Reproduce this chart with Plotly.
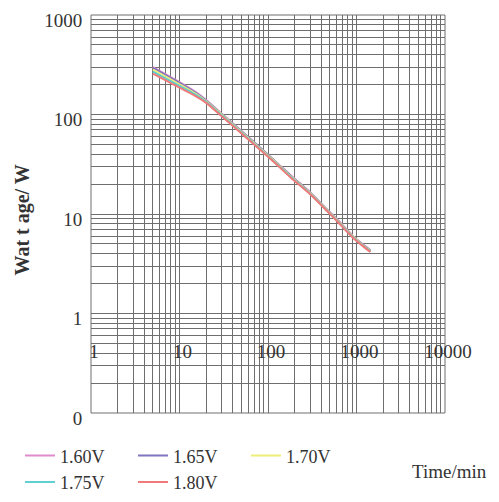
import plotly.graph_objects as go

# Time (min)
time_min = [5, 10, 15, 20, 30, 60, 120, 180, 300, 480, 600, 900, 1200, 1440]

# Wattage (W) per end voltage
w_160 = [300, 212, 170, 140, 102, 59, 34.0, 24.5, 16.5, 10.8, 8.9, 6.10, 4.90, 4.30]
w_165 = [295, 208, 167, 138, 101, 59, 34.0, 24.3, 16.4, 10.7, 8.8, 6.00, 4.85, 4.30]
w_170 = [283, 201, 163, 136, 100, 58, 33.5, 24.0, 16.2, 10.6, 8.7, 6.00, 4.80, 4.25]
w_175 = [270, 194, 159, 134, 98, 57, 33.0, 23.7, 16.0, 10.5, 8.6, 5.90, 4.75, 4.20]
w_180 = [257, 186, 154, 131, 96, 56, 32.5, 23.3, 15.8, 10.4, 8.5, 5.85, 4.70, 4.15]

series_names = ["1.60V", "1.65V", "1.70V", "1.75V", "1.80V"]
series_values = [w_160, w_165, w_170, w_175, w_180]
series_colors = ["#e08ccc", "#7f76bf", "#eeee78", "#5fcfcf", "#f07a7a"]

x_tickvals = [1, 10, 100, 1000, 10000]
x_ticktext = ["1", "10", "100", "1000", "10000"]
y_tickvals = [0.1, 1, 10, 100, 1000]
y_ticktext = ["0", "1", "10", "100", "1000"]

FONT = "Liberation Serif, Times New Roman, serif"
GRID = "#6e6e6e"
TXT = "#333333"

fig = go.Figure()
for name, vals, col in zip(series_names, series_values, series_colors):
    fig.add_trace(go.Scatter(x=time_min, y=vals, mode="lines", name=name,
                             line=dict(color=col, width=2, shape="spline", smoothing=0.8)))

fig.update_layout(
    width=491, height=494,
    margin=dict(l=83, r=54, t=7, b=89, autoexpand=False),
    paper_bgcolor="white", plot_bgcolor="white",
    font=dict(family=FONT, size=19, color=TXT),
    showlegend=True,
    legend=dict(orientation="h", x=-0.2006, xanchor="left", y=-0.061, yanchor="top",
                entrywidth=68, entrywidthmode="pixels",
                font=dict(family=FONT, size=18, color=TXT),
                bgcolor="rgba(0,0,0,0)", borderwidth=0, tracegroupgap=0),
    xaxis=dict(type="log", range=[0, 4], anchor="free", position=0.1884,
               tickvals=x_tickvals, ticktext=x_ticktext, ticks="",
               ticklabelshift=3, ticklabeloverflow="allow",
               showgrid=True, gridcolor=GRID, gridwidth=1,
               minor=dict(dtick="D1", showgrid=True, gridcolor=GRID, gridwidth=1),
               showline=False, zeroline=False,
               tickfont=dict(family=FONT, size=19, color=TXT)),
    yaxis=dict(type="log", range=[-1, 3],
               tickvals=y_tickvals, ticktext=y_ticktext,
               ticks="outside", ticklen=4, tickcolor="rgba(0,0,0,0)",
               ticklabelshift=5, ticklabeloverflow="allow",
               showgrid=True, gridcolor=GRID, gridwidth=1,
               minor=dict(dtick="D1", showgrid=True, gridcolor=GRID, gridwidth=1),
               showline=False, zeroline=False,
               tickfont=dict(family=FONT, size=19, color=TXT)),
    shapes=[dict(type="rect", xref="paper", yref="paper", x0=0, x1=1, y0=0, y1=1,
                 line=dict(color=GRID, width=1), layer="below")],
    annotations=[
        dict(text="<b>Wat t age/ W</b>", textangle=-90, xref="paper", yref="paper",
             x=-0.1935, y=0.485, xanchor="center", yanchor="middle", showarrow=False,
             font=dict(family=FONT, size=20, color=TXT)),
        dict(text="Time/min", xref="paper", yref="paper", x=1.014, y=-0.148,
             xanchor="center", yanchor="middle", showarrow=False,
             font=dict(family=FONT, size=19, color=TXT)),
    ],
)

fig.write_html("out.html")
